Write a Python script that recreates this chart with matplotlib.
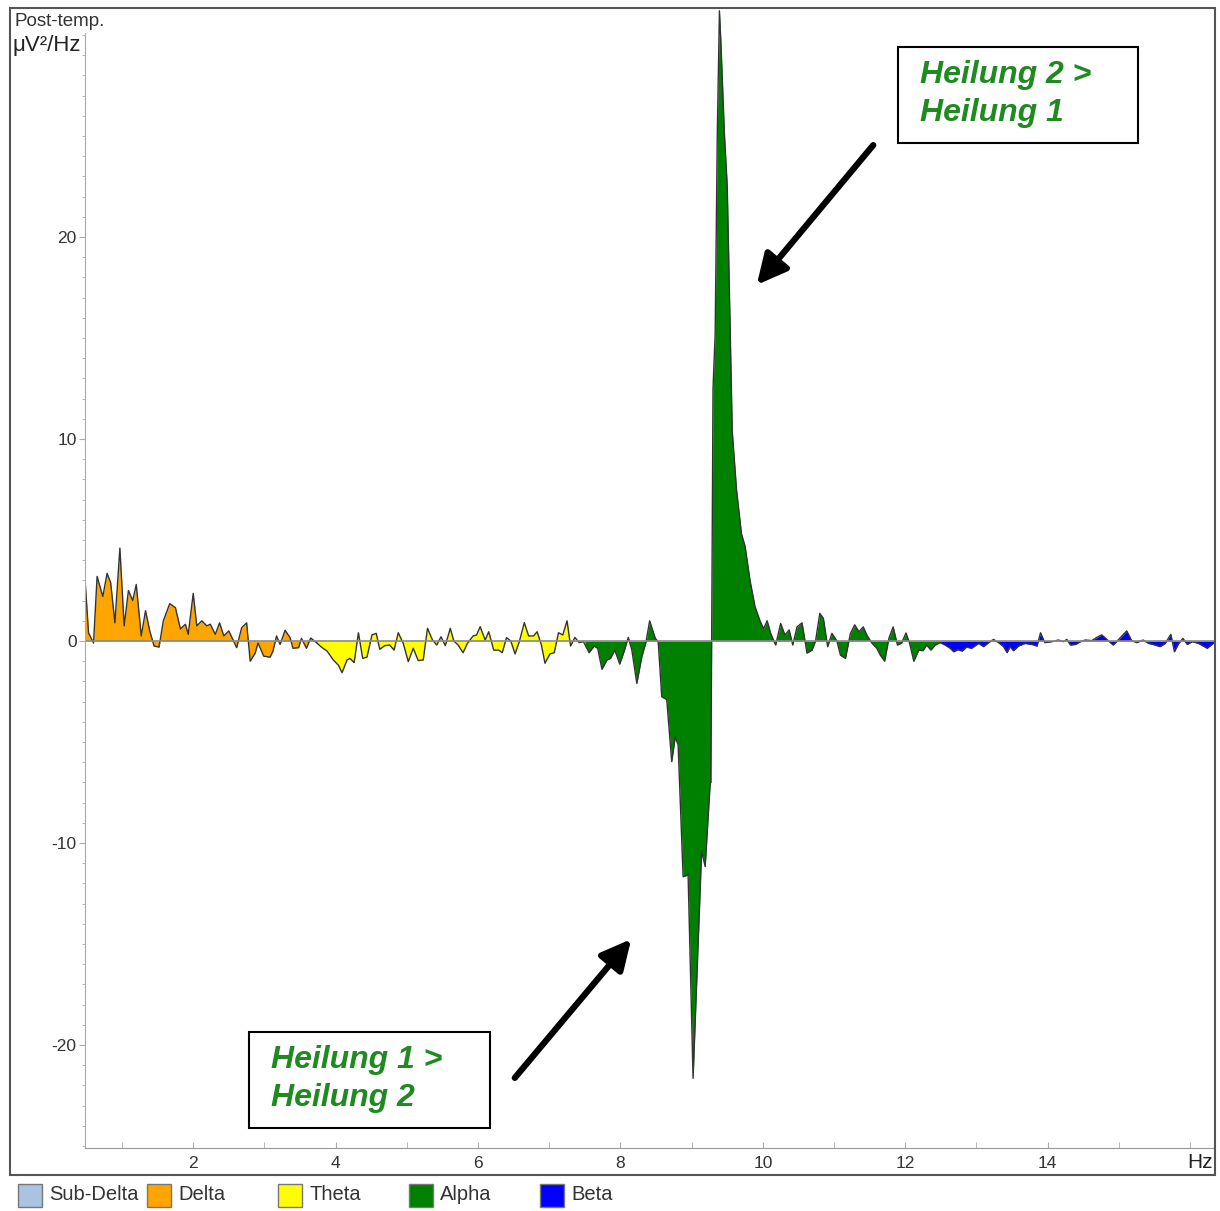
import numpy as np
import matplotlib
matplotlib.use('Agg')
import matplotlib.pyplot as plt
from matplotlib.patches import Rectangle, FancyArrowPatch

plt.rcParams['font.family'] = ['Liberation Sans', 'DejaVu Sans']
plt.rcParams['axes.unicode_minus'] = False

# Difference spectrum (Hz, uV^2/Hz)
freqs = [
    0.47, 0.53, 0.60, 0.65, 0.73, 0.79, 0.84, 0.90, 0.97, 1.03, 1.09, 1.15, 1.20, 1.27, 1.33, 1.39,
    1.45, 1.52, 1.58, 1.67, 1.75, 1.82, 1.89, 1.93, 2.00, 2.05, 2.12, 2.19, 2.24, 2.31, 2.37, 2.43,
    2.50, 2.61, 2.68, 2.75, 2.80, 2.87, 2.91, 2.99, 3.08, 3.12, 3.17, 3.22, 3.29, 3.36, 3.40, 3.48,
    3.52, 3.59, 3.65, 3.73,
    3.80, 3.88, 3.97, 4.04, 4.09, 4.16, 4.20, 4.26, 4.32, 4.38, 4.44, 4.51, 4.57, 4.62, 4.69, 4.76,
    4.82, 4.88, 4.95, 5.02, 5.09, 5.16, 5.23, 5.29, 5.36, 5.42, 5.48, 5.54, 5.61, 5.66, 5.72, 5.79,
    5.85, 5.93, 5.98, 6.03, 6.10, 6.15, 6.22, 6.29, 6.34, 6.40, 6.46, 6.52, 6.58, 6.65, 6.71, 6.78,
    6.83, 6.89, 6.94, 7.01, 7.07, 7.13, 7.19, 7.25, 7.30, 7.36, 7.42, 7.48,
    7.56, 7.63, 7.68, 7.74, 7.81, 7.86, 7.92, 7.99, 8.05, 8.11, 8.16, 8.23, 8.30, 8.36, 8.41, 8.49,
    8.53, 8.58, 8.65, 8.72, 8.77, 8.81, 8.88, 8.95, 9.02, 9.14, 9.19, 9.26, 9.27, 9.30, 9.33, 9.36,
    9.39, 9.41, 9.46, 9.50, 9.57, 9.63, 9.70, 9.75, 9.82, 9.89, 9.96, 10.01, 10.06, 10.11, 10.18,
    10.25, 10.31, 10.37, 10.42, 10.48, 10.55, 10.62, 10.69, 10.74, 10.80, 10.85, 10.91, 10.97,
    11.04, 11.09, 11.16, 11.23, 11.29, 11.35, 11.41, 11.46, 11.53, 11.60, 11.65, 11.71, 11.77,
    11.83, 11.89, 11.95, 12.01, 12.06, 12.12, 12.19, 12.25, 12.30, 12.36, 12.42, 12.49,
    12.56, 12.63, 12.68, 12.74, 12.80, 12.86, 12.93, 13.03, 13.10, 13.17, 13.24, 13.31, 13.38,
    13.43, 13.47, 13.52, 13.59, 13.68, 13.78, 13.85, 13.90, 13.96, 14.06, 14.15, 14.22, 14.27,
    14.32, 14.39, 14.46, 14.53, 14.62, 14.69, 14.76, 14.83, 14.92, 14.99, 15.11, 15.18, 15.25,
    15.34, 15.42, 15.51, 15.58, 15.65, 15.73, 15.78, 15.84, 15.90, 15.96, 16.03, 16.12, 16.24, 16.33,
]
power = [
    3.6, 0.4, -0.1, 3.2, 2.2, 3.35, 2.9, 0.9, 4.6, 0.75, 2.5, 2.0, 2.8, 0.25, 1.5, 0.5,
    -0.25, -0.3, 1.0, 1.85, 1.65, 0.6, 0.83, 0.33, 2.36, 0.75, 1.0, 0.75, 0.83, 0.33, 0.9, 0.25,
    0.5, -0.33, 0.66, 0.9, -1.0, -0.6, -0.1, -0.75, -0.8, -0.5, 0.25, -0.17, 0.53, 0.17, -0.36, -0.33,
    0.13, -0.36, 0.15, -0.08,
    -0.3, -0.5, -0.95, -1.2, -1.57, -0.94, -0.86, -1.07, 0.41, -0.86, -0.8, 0.3, 0.38, -0.41, -0.23, -0.2,
    -0.45, 0.41, -0.12, -1.02, -0.36, -0.97, -0.94, 0.63, 0.05, -0.2, 0.21, -0.23, 0.63, 0.0, -0.2, -0.58,
    -0.12, 0.25, 0.3, 0.71, 0.05, 0.46, -0.45, -0.45, -0.58, 0.17, 0.0, -0.64, -0.03, 0.91, 0.25, 0.25,
    0.46, -0.2, -1.1, -0.64, -0.58, 0.41, 0.3, 1.0, -0.25, 0.18, -0.08, -0.03,
    -0.58, -0.25, -0.36, -1.4, -0.94, -0.86, -0.45, -1.14, -0.53, 0.18, -0.45, -2.1, -0.78, -0.03, 1.0, 0.13,
    -0.03, -2.76, -2.9, -5.97, -4.74, -5.15, -11.67, -11.58, -21.65, -10.4, -11.17, -7.05, -7.0, 12.5, 15.2, 25.1,
    31.2, 29.7, 25.1, 22.5, 10.4, 7.5, 5.3, 4.7, 3.0, 1.7, 1.0, 0.6, 1.0, 0.38, -0.2,
    0.87, 0.3, 0.55, -0.2, 0.7, 0.9, -0.6, -0.45, 0.0, 1.37, 1.12, -0.28, 0.38,
    0.0, -0.7, -0.86, 0.38, 0.8, 0.46, 0.7, 0.3, -0.1, -0.36, -0.7, -1.0, 0.13,
    0.7, -0.2, -0.1, 0.4, -0.1, -1.0, -0.45, -0.48, -0.2, -0.45, -0.2, -0.08,
    -0.2, -0.36, -0.53, -0.43, -0.5, -0.3, -0.36, -0.12, -0.28, -0.08, 0.08, -0.08, -0.28,
    -0.58, -0.28, -0.48, -0.25, -0.12, -0.17, -0.25, 0.41, -0.08, -0.03, 0.05, -0.03, 0.08,
    -0.2, -0.17, -0.03, 0.05, 0.02, 0.18, 0.3, 0.08, -0.2, 0.05, 0.5, 0.02, -0.08,
    0.05, -0.12, -0.2, -0.28, -0.12, 0.33, -0.53, -0.12, 0.13, -0.17, -0.03, -0.12, -0.36, -0.1,
]

band_names = ['Sub-Delta', 'Delta', 'Theta', 'Alpha', 'Beta']
band_colors = ['#a9c3e0', '#ffa500', '#ffff00', '#008000', '#0000ff']
band_edges = [0.0, 0.47, 3.75, 7.5, 12.5, 16.4]

f = np.array(freqs)
p = np.array(power)

W, H = 1220, 1211
fig = plt.figure(figsize=(W / 100, H / 100), dpi=100)

ax = fig.add_axes([85 / W, 1 - 1148 / H, 1130 / W, 1138 / H])

# fill each band in its own colour
for i in range(len(band_names)):
    lo, hi = band_edges[i], band_edges[i + 1]
    m = (f > lo) & (f < hi)
    if not m.any():
        continue
    fx = np.concatenate([[max(lo, f[0])], f[m], [min(hi, f[-1])]])
    fy = np.concatenate([[np.interp(fx[0], f, p)], p[m], [np.interp(fx[-1], f, p)]])
    ax.fill_between(fx, 0, fy, color=band_colors[i], lw=0)

ax.plot(f, p, color='#333333', lw=1.0)
ax.axhline(0, color='#8a8a8a', lw=1.2)

ax.set_xlim(0.48, 16.35)
ax.set_ylim(-25.1, 31.24)

ax.set_xticks([2, 4, 6, 8, 10, 12, 14])
ax.set_xticks(range(1, 17), minor=True)
ax.set_yticks([-20, -10, 0, 10, 20])
ax.set_yticks(range(-25, 31), minor=True)
ax.tick_params(axis='both', which='both', colors='#aaaaaa', labelcolor='#333333', labelsize=12.5)
ax.tick_params(axis='x', which='both', direction='in', length=4, pad=6)
ax.tick_params(axis='y', which='major', direction='out', length=4, pad=2)
ax.tick_params(axis='y', which='minor', direction='out', length=2)

for s in ['top', 'right']:
    ax.spines[s].set_visible(False)
ax.spines['left'].set_color('#aaaaaa')
ax.spines['bottom'].set_color('#999999')
ax.spines['left'].set_bounds(-25.1, 30.1)

# outer frame
fig.add_artist(Rectangle((10 / W, 1 - 1175 / H), 1205 / W, 1167 / H, transform=fig.transFigure,
                         fill=False, edgecolor='#555555', lw=1.5))

fig.text(14 / W, 1 - 22 / H, 'Post-temp.', fontsize=13.5, color='#333333', va='center')
fig.text(13 / W, 1 - 46 / H, 'μV²/Hz', fontsize=16, color='#222222', va='center')
fig.text(1213 / W, 1 - 1163 / H, 'Hz', fontsize=15, color='#222222', va='center', ha='right')

# legend along the bottom
leg_x = [18, 147, 278, 409, 540]
for i, name in enumerate(band_names):
    fig.add_artist(Rectangle((leg_x[i] / W, 1 - 1207 / H), 24 / W, 23 / H, transform=fig.transFigure,
                             facecolor=band_colors[i], edgecolor='#777777', lw=1))
    fig.text((leg_x[i] + 31) / W, 1 - 1195 / H, name, fontsize=14.5, color='#333333', va='center')

# annotation boxes
green = '#1f8a1f'
boxes = [((898, 47, 240, 96), 'Heilung 2 >\nHeilung 1'),
         ((249, 1032, 241, 96), 'Heilung 1 >\nHeilung 2')]
for (bx, by, bw, bh), txt in boxes:
    fig.add_artist(Rectangle((bx / W, 1 - (by + bh) / H), bw / W, bh / H, transform=fig.transFigure,
                             facecolor='white', edgecolor='black', lw=1.5))
    fig.text((bx + 22) / W, 1 - (by + bh / 2 - 1) / H, txt, fontsize=23, color=green,
             fontweight='bold', style='italic', va='center', ha='left', linespacing=1.32)

arrows = [((875, 143), (755, 287)), ((513, 1080), (633, 937))]
for (x0, y0), (x1, y1) in arrows:
    fig.add_artist(FancyArrowPatch((x0 / W, 1 - y0 / H), (x1 / W, 1 - y1 / H),
                                   transform=fig.transFigure, color='black', lw=4.5,
                                   arrowstyle='-|>,head_length=0.9,head_width=0.45',
                                   mutation_scale=20))

fig.savefig('out.png', dpi=100)
